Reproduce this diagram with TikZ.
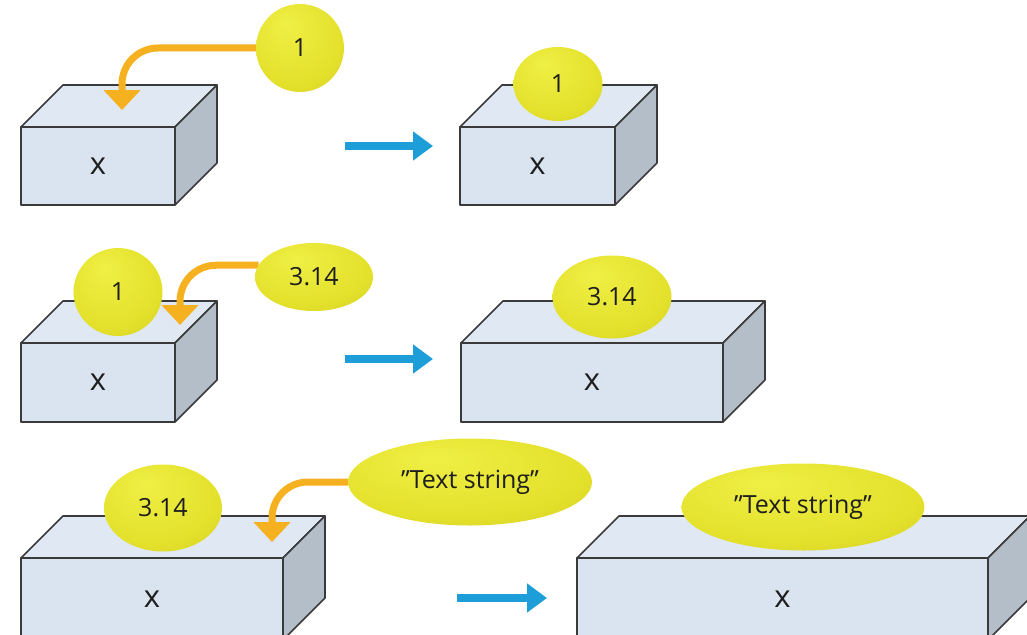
\documentclass[tikz,border=0pt]{standalone}
\usepackage{fontspec}
\setmainfont{Open Sans}
\usetikzlibrary{arrows.meta,shapes.geometric}

\definecolor{boxline}{HTML}{3A3A3A}
\definecolor{boxfront}{HTML}{DAE4F0}
\definecolor{boxtop}{HTML}{DFE8F3}
\definecolor{boxside}{HTML}{B4BEC9}
\definecolor{ylight}{HTML}{EFEF45}
\definecolor{ymid}{HTML}{E4E12C}
\definecolor{ydark}{HTML}{BDB416}
\definecolor{orng}{HTML}{F5B120}
\definecolor{skyblue}{HTML}{1E9ED9}
\definecolor{ink}{HTML}{1E1E1E}

\pgfdeclareradialshading{ballshade}{\pgfpoint{-8bp}{14bp}}{%
  color(0bp)=(ylight); color(28bp)=(ymid); color(62bp)=(ydark)}

\pgfdeclarelayer{boxes}
\pgfdeclarelayer{links}
\pgfsetlayers{boxes,links,main}

\newcommand\dep{42}
% a cuboid: front face is a named node, top and side faces hang off its corners
\newcommand\drawcuboid[5]{% name, x, y, width, height
  \node[frontface, minimum width=#4pt, minimum height=#5pt, anchor=north west] (#1) at (#2,#3) {\raisebox{-4pt}{x}};
  \draw[topface] (#1.north west) -- ++(\dep,-\dep) -- ++(#4,0) -- (#1.north east) -- cycle;
  \draw[sideface] (#1.north east) -- ++(\dep,-\dep) -- ++(0,#5) -- (#1.south east) -- cycle;
}

\tikzset{
  faceline/.style={draw=boxline, line width=1.6pt, line join=round},
  frontface/.style={faceline, fill=boxfront, rectangle, outer sep=0pt, inner sep=0pt,
    text=ink, font=\fontsize{31}{34}\selectfont},
  topface/.style={faceline, fill=boxtop},
  sideface/.style={faceline, fill=boxside},
  ball/.style={ellipse, shading=ballshade, inner sep=0pt, outer sep=0pt,
    text=ink, font=\fontsize{25}{28}\selectfont},
  oarrow/.style={draw=orng, line width=7pt, rounded corners=36pt,
    -{Triangle[length=20pt,width=36pt]}},
  barrow/.style={draw=skyblue, line width=8pt, -{Triangle[length=20pt,width=28pt]}},
}

\begin{document}
\begin{tikzpicture}[x=1pt,y=-1pt]
\useasboundingbox (0,0) rectangle (1027,634);
\clip (0,0) rectangle (1027,634);

% ---- boxes ----
\begin{pgfonlayer}{boxes}
\drawcuboid{f1}{21}{127}{154}{78}
\drawcuboid{f2}{460}{127}{155}{78}
\drawcuboid{f3}{21}{343}{154}{79}
\drawcuboid{f4}{461}{343}{262}{79}
\drawcuboid{f5}{21}{558}{262}{82}
\drawcuboid{f6}{577}{558}{411}{82}
\end{pgfonlayer}

% ---- values ----
\node[ball, minimum width=88pt, minimum height=88pt] (b1) at (300,48) {1};
\node[ball, minimum width=89pt, minimum height=74pt] (b2) at (558,84) {1};
\node[ball, minimum width=118pt, minimum height=68pt] (e4) at (314,277) {3.14};
\node[ball, minimum width=89pt, minimum height=88pt] (b3) at (118,292) {1};
\node[ball, minimum width=119pt, minimum height=83pt] (e5) at (612,297) {3.14};
\node[ball, minimum width=244pt, minimum height=87pt] (e7) at (470,482) {"Text string"};
\node[ball, minimum width=118pt, minimum height=87pt] (e6) at (163,508) {3.14};
\node[ball, minimum width=243pt, minimum height=87pt] (e8) at (803,507) {"Text string"};

% ---- assignment arrows ----
\coordinate (t1) at (122,110);
\coordinate (t2) at (180,325);
\coordinate (t3) at (272,542);
\begin{pgfonlayer}{links}
\draw[oarrow] (b1.west) -| (t1);
\draw[oarrow] (e4.168) -| (t2);
\draw[oarrow] (e7.west) -| (t3);
\end{pgfonlayer}

% ---- result arrows ----
\coordinate (a1s) at (345,146);
\coordinate (a1e) at (433,146);
\coordinate (a2s) at (345,359);
\coordinate (a2e) at (433,359);
\coordinate (a3s) at (457,598);
\coordinate (a3e) at (547,598);
\draw[barrow] (a1s) -- (a1e);
\draw[barrow] (a2s) -- (a2e);
\draw[barrow] (a3s) -- (a3e);
\end{tikzpicture}
\end{document}
